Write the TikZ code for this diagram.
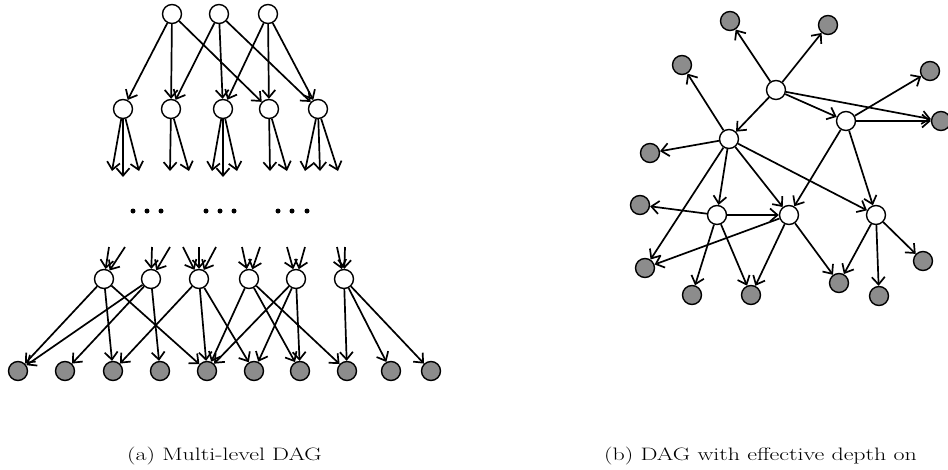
\documentclass[tikz,border=0pt]{standalone}
\usetikzlibrary{arrows.meta}
\definecolor{nodegray}{gray}{0.55}
\begin{document}
\begin{tikzpicture}[x=1pt,y=-1pt,
  wn/.style={circle,draw,fill=white,minimum size=19pt,inner sep=0pt,line width=1.4pt},
  gn/.style={circle,draw,fill=nodegray,minimum size=19pt,inner sep=0pt,line width=1.4pt},
  dotn/.style={circle,fill=black,minimum size=5pt,inner sep=0pt},
  edge/.style={line width=1.7pt,-{Straight Barb[length=7.5pt,width=13pt,line width=1.7pt]}},
  captext/.style={font=\fontsize{18}{20}\selectfont,inner sep=0pt}]
\useasboundingbox (0,0) rectangle (948,469);
% ---------- left: multi-level DAG ----------
\node[wn] (t1) at (172,14) {};
\node[wn] (t2) at (219,14) {};
\node[wn] (t3) at (268,14) {};
\node[wn] (s1) at (123,109) {};
\node[wn] (s2) at (171,109) {};
\node[wn] (s3) at (223,109) {};
\node[wn] (s4) at (269,109) {};
\node[wn] (s5) at (318,109) {};
\foreach \a/\b in {t1/s1,t1/s2,t1/s4,t2/s2,t2/s3,t2/s5,t3/s3,t3/s4,t3/s5}
  \draw[edge] (\a) -- (\b);
% dangling outgoing arrows
\coordinate (o11) at (112,171); \coordinate (o12) at (123,177); \coordinate (o13) at (139,171);
\coordinate (o21) at (170,171); \coordinate (o22) at (189,171);
\coordinate (o31) at (212,171); \coordinate (o32) at (223,177); \coordinate (o33) at (237,171);
\coordinate (o41) at (270,171); \coordinate (o42) at (287,171);
\coordinate (o51) at (305,171); \coordinate (o52) at (320,171); \coordinate (o53) at (338,171);
\foreach \a/\b in {s1/o11,s1/o12,s1/o13,s2/o21,s2/o22,s3/o31,s3/o32,s3/o33,s4/o41,s4/o42,s5/o51,s5/o52,s5/o53}
  \draw[edge] (\a) -- (\b);
% dots
\foreach \x [count=\i] in {133,147,161,206,220,234,278,292,307}
  \node[dotn] (d\i) at (\x,211) {};
% third row
\node[wn] (u1) at (104,279) {};
\node[wn] (u2) at (151,279) {};
\node[wn] (u3) at (199,279) {};
\node[wn] (u4) at (249,279) {};
\node[wn] (u5) at (296,279) {};
\node[wn] (u6) at (344,279) {};
% dangling incoming arrows
\coordinate (i11) at (109,247); \coordinate (i12) at (125,247);
\coordinate (i21) at (152,247); \coordinate (i22) at (170,247);
\coordinate (i31) at (183,247); \coordinate (i32) at (199,247); \coordinate (i33) at (216,247);
\coordinate (i41) at (242,247); \coordinate (i42) at (260,247);
\coordinate (i51) at (287,247); \coordinate (i52) at (305,247);
\coordinate (i61) at (337,247); \coordinate (i62) at (345,247);
\foreach \a/\b in {i11/u1,i12/u1,i21/u2,i22/u2,i31/u3,i32/u3,i33/u3,i41/u4,i42/u4,i51/u5,i52/u5,i61/u6,i62/u6}
  \draw[edge] (\a) -- (\b);
% bottom row
\foreach \x [count=\i] in {18,65,113,160,207,254,300,347,391,431}
  \node[gn] (b\i) at (\x,371) {};
\foreach \a/\b in {u1/b1,u1/b3,u1/b5,u2/b1,u2/b2,u2/b4,u3/b3,u3/b5,u3/b6,u4/b5,u4/b7,u4/b8,u5/b5,u5/b6,u5/b7,u6/b8,u6/b9,u6/b10}
  \draw[edge] (\a) -- (\b);
% ---------- right: DAG with effective depth one ----------
\node[wn] (A) at (776,90) {};
\node[wn] (B) at (846,121) {};
\node[wn] (C) at (729,139) {};
\node[wn] (D) at (717,215) {};
\node[wn] (E) at (789,215) {};
\node[wn] (F) at (876,215) {};
\node[gn] (g1) at (730,21) {};
\node[gn] (g2) at (828,25) {};
\node[gn] (g3) at (682,65) {};
\node[gn] (g4) at (930,71) {};
\node[gn] (g5) at (941,121) {};
\node[gn] (g6) at (650,153) {};
\node[gn] (g7) at (640,205) {};
\node[gn] (g8) at (645,268) {};
\node[gn] (g9) at (692,295) {};
\node[gn] (g10) at (751,295) {};
\node[gn] (g11) at (839,283) {};
\node[gn] (g12) at (879,296) {};
\node[gn] (g13) at (923,261) {};
\foreach \a/\b in {A/g1,A/g2,A/g5,A/B,A/C,B/g4,B/g5,B/E,B/F,C/g3,C/g6,C/D,C/E,C/F,C/g8,D/g7,D/E,D/g9,D/g10,E/g8,E/g10,E/g11,F/g11,F/g12,F/g13}
  \draw[edge] (\a) -- (\b);
% captions
\node[captext,anchor=base] (capa) at (224.5,460.5) {\scalebox{1.33}[1]{(a) Multi-level DAG}};
\node[captext,anchor=base west] (capb) at (604,460.5) {\scalebox{1.33}[1]{(b) DAG with effective depth on}};
\end{tikzpicture}
\end{document}
